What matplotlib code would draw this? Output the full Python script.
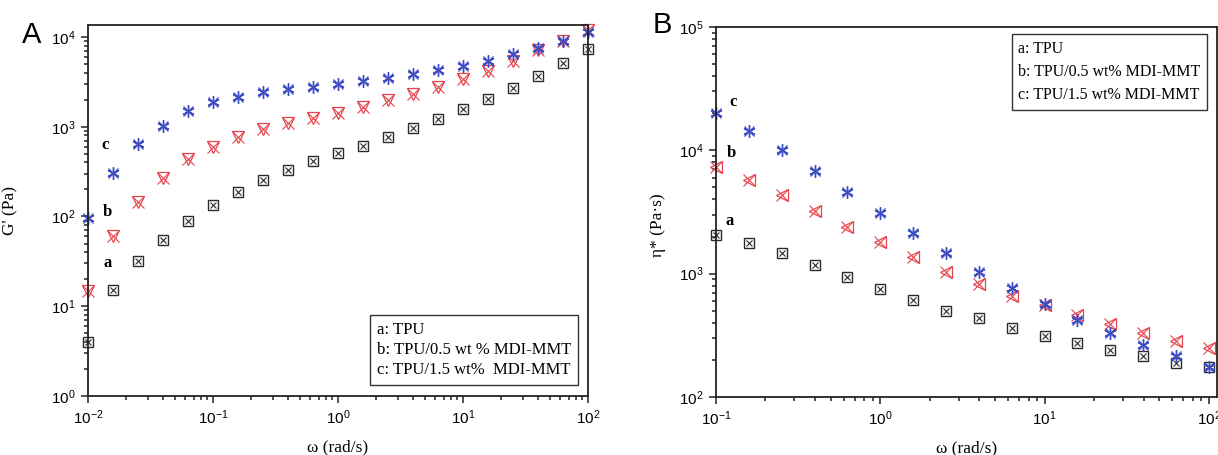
import matplotlib
matplotlib.use("Agg")
import matplotlib.pyplot as plt
from matplotlib.lines import Line2D

# frequency sweep points (rad/s)
w_a = [0.01, 0.0158, 0.0251, 0.0398, 0.063, 0.1, 0.158, 0.251, 0.398, 0.63, 1.0,
       1.58, 2.51, 3.98, 6.3, 10, 15.8, 25.1, 39.8, 63, 100]
w_b = [0.1, 0.158, 0.251, 0.398, 0.63, 1.0, 1.58, 2.51, 3.98, 6.3, 10,
       15.8, 25.1, 39.8, 63, 100]

# panel A: storage modulus G' (Pa)
g_tpu = [4.0, 15.2, 32, 55, 89, 135, 188, 255, 330, 410, 510,
         615, 770, 960, 1230, 1580, 2040, 2700, 3680, 5130, 7300]
g_05 = [14.8, 61, 145, 270, 440, 600, 770, 945, 1100, 1260, 1420,
        1660, 1990, 2300, 2770, 3400, 4170, 5400, 7150, 9100, 12000]
g_15 = [95, 305, 640, 1020, 1500, 1880, 2130, 2450, 2640, 2800, 3000,
        3200, 3450, 3900, 4300, 4750, 5400, 6450, 7550, 9100, 11500]

# panel B: complex viscosity eta* (Pa s)
eta_tpu = [2050, 1780, 1480, 1180, 940, 750, 610, 500, 435, 360, 315,
           275, 242, 213, 190, 175]
eta_05 = [7300, 5800, 4350, 3250, 2400, 1800, 1370, 1030, 825, 665, 555,
          460, 390, 330, 285, 250]
eta_15 = [20000, 14400, 10000, 6800, 4600, 3100, 2150, 1480, 1030, 760, 565,
          420, 330, 265, 215, 175]

leg_a = ["a: TPU", "b: TPU/0.5 wt % MDI-MMT", "c: TPU/1.5 wt%  MDI-MMT"]
leg_b = ["a: TPU", "b: TPU/0.5 wt% MDI-MMT", "c: TPU/1.5 wt% MDI-MMT"]

BLACK = "#2a2a2a"
RED = "#e8434c"
BLUE = "#3d4cc0"
SERIF = "Liberation Serif"
SANS = "Liberation Sans"

W, H = 1218, 455
fig = plt.figure(figsize=(W / 100, H / 100), dpi=100)


def box(l, t, r, b):
    return [l / W, (H - b) / H, (r - l) / W, (b - t) / H]


def style(ax):
    for s in ax.spines.values():
        s.set_linewidth(1.3)
        s.set_color("#222222")
    ax.tick_params(which="both", direction="out", top=False, right=False,
                   width=1.1, color="#222222")
    ax.tick_params(which="major", length=5, labelsize=11, pad=4)
    ax.tick_params(which="minor", length=3)
    for lab in ax.get_xticklabels() + ax.get_yticklabels():
        lab.set_fontfamily(SANS)


def draw_black(ax, x, y):
    ax.plot(x, y, ls="none", marker="s", ms=6.5, mfc="none", mec=BLACK, mew=1.0, clip_on=False)
    ax.plot(x, y, ls="none", marker="x", ms=4.5, mec=BLACK, mew=0.8, clip_on=False)


def draw_red(ax, x, y, tri):
    ax.plot(x, y, ls="none", marker=tri, ms=9, mfc="none", mec=RED, mew=0.9, clip_on=False)
    ax.plot(x, y, ls="none", marker="x", ms=8, mec=RED, mew=0.8, clip_on=False)


def draw_blue(ax, x, y):
    ax.plot(x, y, ls="none", marker=(6, 2, 0), ms=9, mec=BLUE, mew=1.0, clip_on=False)
    ax.plot(x, y, ls="none", marker="x", ms=7, mec=BLUE, mew=0.9, clip_on=False)


def legend_text(ax, labels, loc, anchor, size, spacing):
    handles = [Line2D([], [], ls="none") for _ in labels]
    lg = ax.legend(handles, labels, loc=loc, bbox_to_anchor=anchor, borderaxespad=0,
                   handlelength=0, handletextpad=0, fancybox=False, framealpha=1,
                   edgecolor="#333333", prop={"family": SERIF, "size": size},
                   labelspacing=spacing, borderpad=0.4)
    lg.get_frame().set_linewidth(1.0)


# ---- panel A ----
axA = fig.add_axes(box(88, 25, 588, 396))
axA.set_xscale("log")
axA.set_yscale("log")
draw_black(axA, w_a, g_tpu)
draw_red(axA, w_a, g_05, "v")
draw_blue(axA, w_a, g_15)
axA.set_xlim(0.01, 100)
axA.set_ylim(1, 13600)
style(axA)
axA.set_xlabel("ω (rad/s)", family=SERIF, fontsize=12.5)
axA.set_ylabel("G' (Pa)", family=SERIF, fontsize=12.5)
axA.xaxis.set_label_coords(0.5, -0.118)
axA.yaxis.set_label_coords(-0.14, 0.5)
for t, xx, yy in [("c", 105, 145), ("b", 107, 212), ("a", 108, 263)]:
    fig.text(xx / W, 1 - yy / H, t, family=SERIF, weight="bold", fontsize=12,
             ha="center", va="center")
legend_text(axA, leg_a, "lower right", (0.98, 0.03), 12, 0.25)
fig.text(32 / W, 1 - 35 / H, "A", family=SANS, fontsize=21, ha="center", va="center")

# ---- panel B ----
axB = fig.add_axes(box(716, 27, 1217, 397))
axB.set_xscale("log")
axB.set_yscale("log")
draw_black(axB, w_b, eta_tpu)
draw_red(axB, w_b, eta_05, "<")
draw_blue(axB, w_b, eta_15)
axB.set_xlim(0.1, 112)
axB.set_ylim(100, 1e5)
style(axB)
axB.set_xlabel("ω (rad/s)", family=SERIF, fontsize=12.5)
axB.set_ylabel("η* (Pa·s)", family=SERIF, fontsize=12.5)
axB.xaxis.set_label_coords(0.5, -0.118)
axB.yaxis.set_label_coords(-0.1, 0.465)
for t, xx, yy in [("c", 733, 102), ("b", 731, 153), ("a", 730, 221)]:
    fig.text(xx / W, 1 - yy / H, t, family=SERIF, weight="bold", fontsize=12,
             ha="center", va="center")
legend_text(axB, leg_b, "upper right", (0.98, 0.98), 11.5, 0.45)
fig.text(662 / W, 1 - 25 / H, "B", family=SANS, fontsize=21, ha="center", va="center")

fig.savefig("out.png", dpi=100)
